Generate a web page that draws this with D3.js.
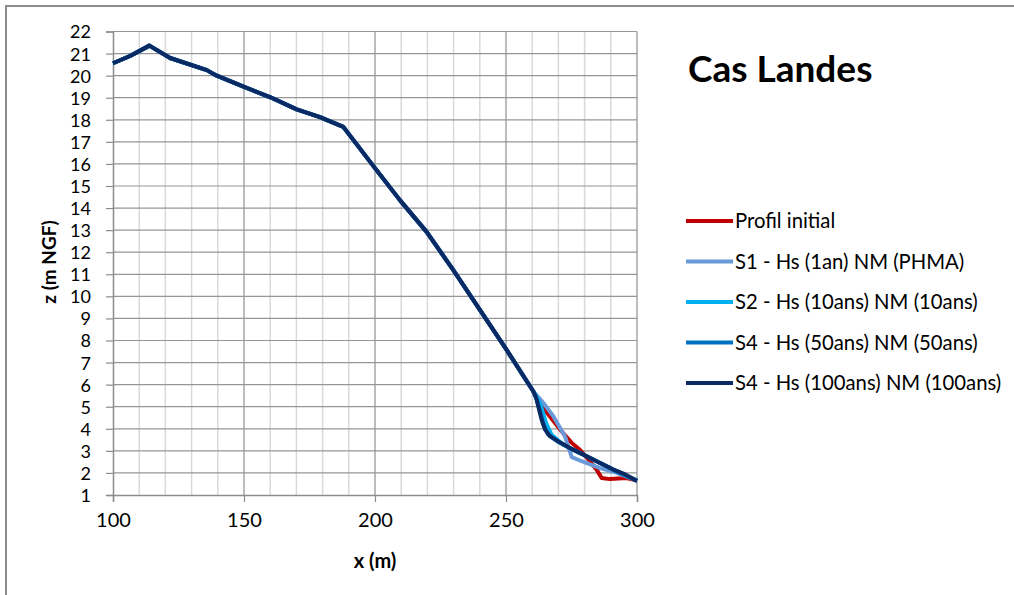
<!DOCTYPE html>
<html>
<head>
<meta charset="utf-8">
<script src="https://cdn.jsdelivr.net/npm/d3@7"></script>
<style>
  body { margin: 0; background: #fff; }
  svg text { font-family: Lato, "Open Sans", sans-serif; fill: #000; }
</style>
</head>
<body>
<script>
// shared upper profile (dune crest down to ~x=260)
var profileX = [100, 106.5, 113.9, 121.8, 135.8, 139.6, 149.8, 160.1, 170.1, 179.0, 187.9, 199.4, 209.5, 219.7, 229.9, 240.1, 250.3, 260.4]
var profileZ = [20.56, 20.89, 21.36, 20.8, 20.25, 20.0, 19.5, 19.02, 18.47, 18.12, 17.68, 15.9, 14.36, 12.92, 11.19, 9.38, 7.56, 5.70]

// lower part of each scenario
var initialX = [263.5, 268.7, 271.2, 275.1, 278.2, 282.0, 284.6, 286.5, 289.7, 296.0, 300]
var initialZ = [5.05, 4.26, 3.89, 3.36, 3.05, 2.53, 2.15, 1.77, 1.72, 1.77, 1.65]
var s1X = [264.3, 268.1, 272.5, 275.1, 278.9, 285.9, 292.3, 300]
var s1Z = [5.17, 4.56, 3.66, 2.72, 2.53, 2.22, 2.0, 1.65]
var s2X = [262.3, 263.6, 265.3, 267.4, 271.9, 277.0, 284.6, 291.0, 300]
var s2Z = [5.32, 4.94, 4.26, 3.73, 3.28, 2.98, 2.53, 2.15, 1.65]
var s50X = [261.8, 263.0, 264.3, 266.0, 270.0, 275.0, 280.0, 285.0, 291.0, 300]
var s50Z = [5.3, 4.8, 4.2, 3.75, 3.4, 3.08, 2.8, 2.5, 2.14, 1.65]
var s100X = [261.5, 262.3, 263.6, 264.9, 266.8, 270.0, 274.4, 279.5, 284.6, 291.0, 294.8, 300]
var s100Z = [5.4, 5.02, 4.41, 3.96, 3.66, 3.43, 3.13, 2.83, 2.53, 2.15, 1.97, 1.63]

var seriesNames = ["Profil initial", "S1 - Hs (1an) NM (PHMA)", "S2 - Hs (10ans) NM (10ans)", "S4 - Hs (50ans) NM (50ans)", "S4 - Hs (100ans) NM (100ans)"]
var seriesColors = ["#c00000", "#6a9ad8", "#00b0f0", "#0070c0", "#0b2a63"]
var tailsX = [initialX, s1X, s2X, s50X, s100X]
var tailsZ = [initialZ, s1Z, s2Z, s50Z, s100Z]

var xTicks = [100, 150, 200, 250, 300]
var yTicks = d3.range(1, 23)

var width = 1014, height = 595

var svg = d3.select("body").append("svg")
            .attr("width", width)
            .attr("height", height)

// chart frame
svg.append("rect")
   .attr("x", 6).attr("y", 6)
   .attr("width", width + 10).attr("height", height + 10)
   .style("fill", "#fff").style("stroke", "#8c8c8c").style("stroke-width", 2)

var x = d3.scaleLinear().domain([100, 300]).range([113, 637])
var y = d3.scaleLinear().domain([1, 22]).range([495, 31.5])

// vertical grid (minor every 10, major every 50)
svg.append("g").selectAll("line")
   .data(d3.range(110, 301, 10))
   .join("line")
   .attr("x1", d => x(d)).attr("x2", d => x(d))
   .attr("y1", y(22)).attr("y2", y(1))
   .style("stroke", d => d % 50 == 0 ? "#a6a6a6" : "#d9d9d9")
   .style("stroke-width", 1.5)

// horizontal grid
svg.append("g").selectAll("line")
   .data(yTicks.slice(1))
   .join("line")
   .attr("x1", x(100)).attr("x2", x(300))
   .attr("y1", d => y(d)).attr("y2", d => y(d))
   .style("stroke", "#969696")
   .style("stroke-width", 1.2)

// axes
var xAxis = svg.append("g")
   .attr("transform", "translate(0," + y(1) + ")")
   .call(d3.axisBottom(x).tickValues(xTicks).tickSize(7).tickPadding(11))
var yAxis = svg.append("g")
   .attr("transform", "translate(" + x(100) + ",0)")
   .call(d3.axisLeft(y).tickValues(yTicks).tickSize(7).tickPadding(15))

;[xAxis, yAxis].forEach(function(a) {
  a.select(".domain").style("stroke", "#8c8c8c").style("stroke-width", 1.5)
  a.selectAll(".tick line").style("stroke", "#8c8c8c").style("stroke-width", 1.2)
  a.selectAll("text").style("font-size", "20px").style("font-family", "Lato, sans-serif").attr("fill", "#000")
})
yAxis.selectAll("text").style("font-size", "18px").attr("dy", "0.36em")

// axis titles
svg.append("text")
   .attr("x", 375).attr("y", 568)
   .attr("text-anchor", "middle")
   .style("font-weight", "bold").style("font-size", "20px")
   .text("x (m)")
svg.append("text")
   .attr("transform", "translate(56,262) rotate(-90)")
   .attr("text-anchor", "middle")
   .style("font-weight", "bold").style("font-size", "19px")
   .text("z (m NGF)")

// title
svg.append("text")
   .attr("x", 688).attr("y", 82)
   .style("font-weight", "bold").style("font-size", "37px")
   .text("Cas Landes")

// series lines
var line = d3.line().x(d => x(d[0])).y(d => y(d[1]))
var seriesData = seriesNames.map(function(name, i) {
  var pts = profileX.map((px, j) => [px, profileZ[j]])
  tailsX[i].forEach((tx, j) => pts.push([tx, tailsZ[i][j]]))
  return {name: name, color: seriesColors[i], points: pts}
})

svg.append("g").selectAll("path")
   .data(seriesData)
   .join("path")
   .attr("d", d => line(d.points))
   .style("fill", "none")
   .style("stroke", d => d.color)
   .style("stroke-width", 4)
   .style("stroke-linejoin", "round")

// legend
var legend = svg.append("g").selectAll("g")
   .data(seriesData)
   .join("g")
   .attr("transform", (d, i) => "translate(686," + (221 + i * 40.5) + ")")
legend.append("line")
   .attr("x1", 0).attr("x2", 47)
   .style("stroke", d => d.color).style("stroke-width", 4)
legend.append("text")
   .attr("x", 49).attr("dy", "0.36em")
   .style("font-size", "20.3px")
   .text(d => d.name)
</script>
</body>
</html>
